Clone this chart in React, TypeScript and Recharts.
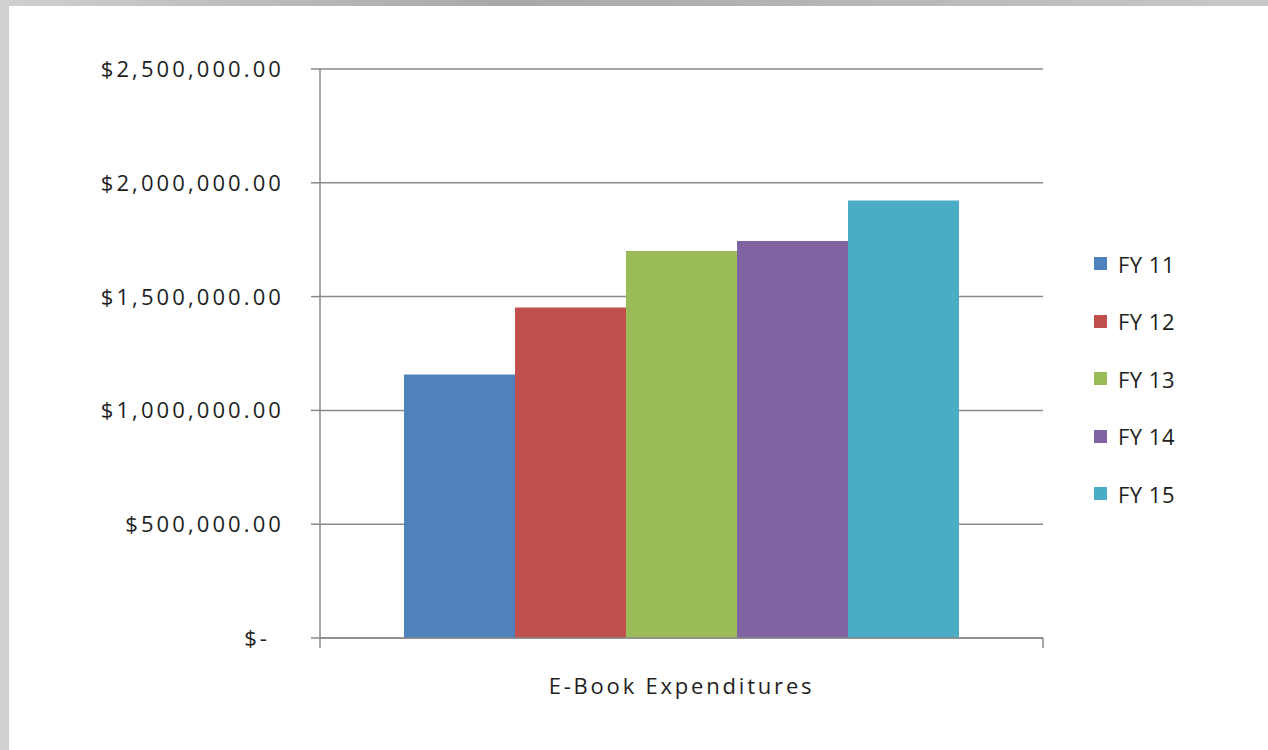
import React from "react";
import { BarChart, Bar, XAxis, YAxis, CartesianGrid, Legend } from "recharts";

const categories = ["E-Book Expenditures"];
const seriesNames = ["FY 11", "FY 12", "FY 13", "FY 14", "FY 15"];
const seriesKeys = ["FY11", "FY12", "FY13", "FY14", "FY15"];
const seriesValues = [1158000, 1452000, 1700000, 1744000, 1922000];
const seriesColors = ["#4f81bd", "#c0504d", "#9bbb59", "#8064a2", "#4bacc6"];
const yTicks = [0, 500000, 1000000, 1500000, 2000000, 2500000];

const data = categories.map((c) => {
  const row: Record<string, string | number> = { category: c };
  seriesKeys.forEach((k, i) => {
    row[k] = seriesValues[i];
  });
  return row;
});

const FONT = "'Open Sans', sans-serif";
const TEXT = "#1e1e1e";
const LINE = "#8a8a8a";
const PLOT_W = 723;

const money = (v: number) =>
  v === 0
    ? "$-"
    : "$" + v.toLocaleString("en-US", { minimumFractionDigits: 2, maximumFractionDigits: 2 });

function YTick(props: any) {
  const { x, y, payload } = props;
  const v = payload.value as number;
  return (
    <text
      x={v === 0 ? x - 14 : x}
      y={y}
      dy="0.36em"
      textAnchor="end"
      fill={TEXT}
      fontSize={22}
      fontFamily={FONT}
      style={{ letterSpacing: 3.1 }}
    >
      {money(v)}
    </text>
  );
}

function XTick(props: any) {
  const { x, y, payload } = props;
  return (
    <g>
      <line x1={x - PLOT_W / 2} x2={x - PLOT_W / 2} y1={y} y2={y + 10} stroke={LINE} strokeWidth={1.5} />
      <line x1={x + PLOT_W / 2} x2={x + PLOT_W / 2} y1={y} y2={y + 10} stroke={LINE} strokeWidth={1.5} />
      <text
        x={x}
        y={y + 56}
        textAnchor="middle"
        fill={TEXT}
        fontSize={22}
        fontFamily={FONT}
        style={{ letterSpacing: 2.8 }}
      >
        {payload.value}
      </text>
    </g>
  );
}

function LegendBox(props: any) {
  const { payload } = props;
  return (
    <div style={{ fontFamily: FONT }}>
      {(payload || []).map((p: any) => (
        <div key={p.value} style={{ display: "flex", alignItems: "center", height: 57.5 }}>
          <span style={{ width: 13, height: 13, background: p.color, display: "inline-block", marginRight: 11 }} />
          <span style={{ fontSize: 22, color: TEXT, letterSpacing: 0.5 }}>{p.value}</span>
        </div>
      ))}
    </div>
  );
}

export default function App() {
  return (
    <div
      style={{
        position: "absolute",
        left: 0,
        top: 0,
        width: 1268,
        height: 750,
        background: "linear-gradient(90deg, #d0d0d0, #a8a8a8 40%, #c8c8c8)",
        overflow: "hidden",
      }}
    >
      <div style={{ position: "absolute", left: 9, top: 6, width: 1259, height: 744, background: "#fff" }}>
        <BarChart
          width={1259}
          height={744}
          data={data}
          margin={{ top: 63, right: 225, bottom: 52, left: 0 }}
          barCategoryGap={84}
          barGap={0}
        >
          <CartesianGrid vertical={false} stroke={LINE} strokeWidth={1.5} />
          <XAxis
            dataKey="category"
            height={60}
            tickLine={false}
            tickSize={0}
            tickMargin={0}
            tick={<XTick />}
            axisLine={{ stroke: LINE, strokeWidth: 1.5 }}
          />
          <YAxis
            width={311}
            domain={[0, 2500000]}
            ticks={yTicks}
            interval={0}
            tickSize={9}
            tickMargin={27}
            tick={<YTick />}
            tickLine={{ stroke: LINE, strokeWidth: 1.5 }}
            axisLine={{ stroke: LINE, strokeWidth: 1.5 }}
          />
          <Legend
            layout="vertical"
            align="center"
            verticalAlign="middle"
            content={<LegendBox />}
            wrapperStyle={{ position: "absolute", left: 1085, top: 229, width: 150 }}
          />
          {seriesKeys.map((k, i) => (
            <Bar key={k} dataKey={k} name={seriesNames[i]} fill={seriesColors[i]} isAnimationActive={false} />
          ))}
        </BarChart>
      </div>
    </div>
  );
}
